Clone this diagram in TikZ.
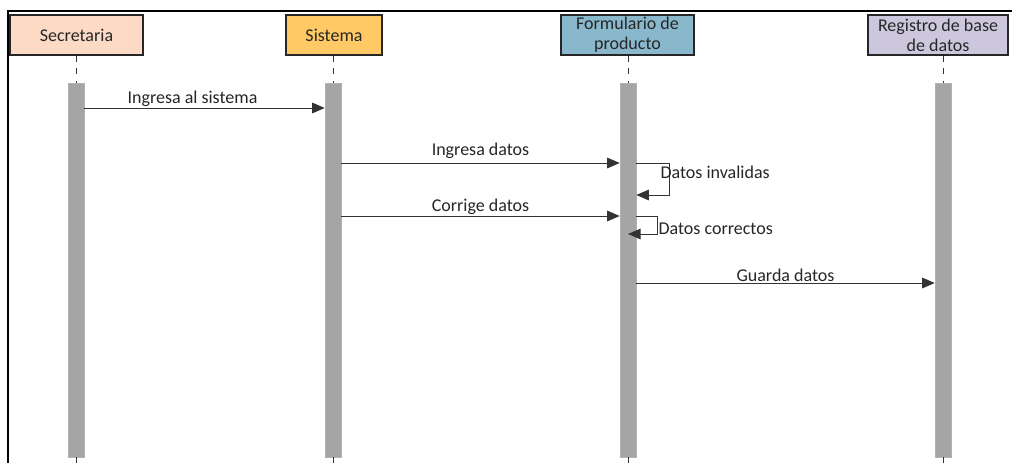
\documentclass[tikz,border=0pt]{standalone}
\usepackage{fontspec}
\setmainfont{Carlito}
\usetikzlibrary{arrows.meta}
\definecolor{secFill}{HTML}{FCDAC5}
\definecolor{sisFill}{HTML}{FFCA66}
\definecolor{forFill}{HTML}{89B7CC}
\definecolor{regFill}{HTML}{CCC7DD}
\definecolor{barGray}{HTML}{A5A5A5}
\definecolor{txtGray}{HTML}{262626}
\tikzset{
  actor/.style={draw=black!85, line width=1.1pt, minimum width=#1, minimum height=30pt, align=center, text=txtGray, font=\fontsize{13.5}{15}\selectfont, inner sep=1pt},
  bar/.style={fill=barGray, draw=barGray!85, line width=0.4pt, minimum width=12pt, minimum height=280.5pt, inner sep=0pt},
  life/.style={black!80, line width=0.75pt, dash pattern=on 4.5pt off 5pt},
  msg/.style={-{Triangle[length=9.5pt,width=8pt]}, black!80, line width=0.7pt},
  lbl/.style={text=txtGray, font=\fontsize{13.5}{15}\selectfont, inner sep=1pt}
}
\begin{document}
\begin{tikzpicture}[x=0.75pt,y=-0.75pt]
\useasboundingbox (0,0) rectangle (1012,463);
\draw[black, line width=1pt] (8,463) -- (8,11) -- (1012,11);
\node[actor=100pt, fill=secFill] (sec) at (76.5,35) {Secretaria};
\node[actor=72pt, fill=sisFill] (sis) at (334,35) {Sistema};
\node[actor=100pt, fill=forFill] (for) at (627.5,35) {Formulario de\\producto};
\node[actor=105pt, fill=regFill] (reg) at (938,35) {Registro de base\\de datos};
\node[bar] (secBar) at (76,270) {};
\node[bar] (sisBar) at (333,270) {};
\node[bar] (forBar) at (628,270) {};
\node[bar] (regBar) at (943,270) {};
\foreach \n in {sec,sis,for,reg}{
  \coordinate (\n End) at (\n Bar.south |- 0,463);
  \draw[life] (\n.south -| \n Bar) -- (\n Bar.north);
  \draw[life] (\n Bar.south) -- (\n End);
}
\coordinate (m1) at (0,108);
\coordinate (m2) at (0,163);
\coordinate (m3) at (0,195);
\coordinate (m4) at (0,216);
\coordinate (m5) at (0,234);
\coordinate (m6) at (0,283);
\draw[msg] (secBar.east |- m1) -- node[lbl, above, pos=0.45] {Ingresa al sistema} (sisBar.west |- m1);
\draw[msg] (sisBar.east |- m2) -- node[lbl, above=2pt] {Ingresa datos} (forBar.west |- m2);
\draw[msg] (forBar.east |- m2) -- ++(33,0) |- (forBar.east |- m3);
\node[lbl, anchor=west] (inv) at (659,172) {Datos invalidas};
\draw[msg] (sisBar.east |- m4) -- node[lbl, above] {Corrige datos} (forBar.west |- m4);
\draw[msg] (forBar.east |- m4) -- ++(21,0) |- (forBar |- m5);
\node[lbl, anchor=west] (cor) at (657,229) {Datos correctos};
\draw[msg] (forBar.east |- m6) -- node[lbl, above] {Guarda datos} (regBar.west |- m6);
\end{tikzpicture}
\end{document}
